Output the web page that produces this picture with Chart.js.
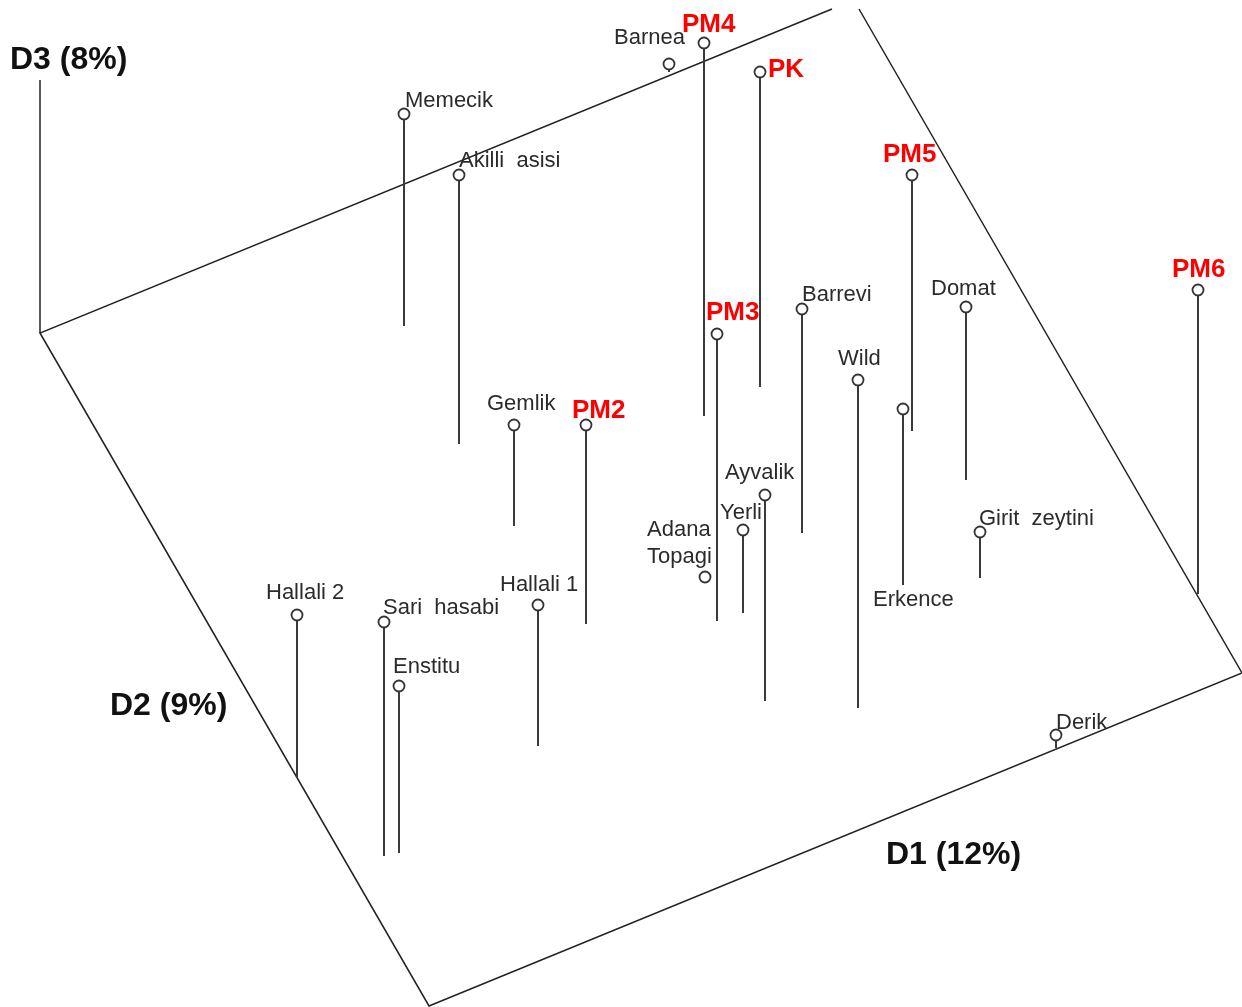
<!DOCTYPE html>
<html>
<head>
<meta charset="utf-8">
<script src="https://cdn.jsdelivr.net/npm/chart.js@4/dist/chart.umd.min.js"></script>
<style>
    html, body { margin: 0; padding: 0; background: #fff; }
    #wrap { width: 1242px; height: 1007px; }
</style>
</head>
<body>
<div id="wrap"><canvas id="pcoa" width="1242" height="1007"></canvas></div>
<script>
// samples, projected position of each point (x, top of stem) and where its stem meets the D1/D2 plane
const names = ["Memecik", "Akilli  asisi", "Barnea", "PM4", "PK", "PM5", "PM6", "Domat", "Barrevi", "PM3", "Wild", "Erkence",
    "Gemlik", "PM2", "Ayvalik", "Yerli", "Adana\nTopagi", "Girit  zeytini", "Hallali 2", "Sari  hasabi", "Enstitu", "Hallali 1", "Derik"];
const posX = [404, 459, 669, 704, 760, 912, 1198, 966, 802, 717, 858, 903, 514, 586, 765, 743, 705, 980, 297, 384, 399, 538, 1056];
const topY = [114, 175, 64, 43, 72, 175, 290, 307, 309, 334, 380, 409, 425, 425, 495, 530, 577, 532, 615, 622, 686, 605, 735];
const baseY = [326, 444, 72, 416, 387, 431, 594, 480, 533, 621, 708, 585, 526, 624, 701, 613, 577, 578, 778, 856, 853, 746, 748];
const refSamples = ["PM2", "PM3", "PM4", "PM5", "PM6", "PK"];

// outline of the D1/D2 plane and the D3 axis
const planeX = [832, 40, 429, 1242, 859];
const planeY = [9, 333, 1006, 673, 9];
const d3X = [40, 40];
const d3Y = [333, 80];

const axisTitles = ["D3 (8%)", "D2 (9%)", "D1 (12%)"];
const axisTitleX = [10, 110, 886];
const axisTitleY = [60, 706, 855];

// label placement relative to each marker (left edge, vertical middle)
const labelDx = [1, 0, -55, -22, 8, -29, -26, -35, 0, -11, -20, -30, -27, -14, -40, -23, -58, -1, -31, -1, -6, -38, 0];
const labelDy = [-13, -14, -26, -18, -2, -20, -20, -18, -14, -21, -21, 191, -21, -14, -22, -17, -47, -13, -22, -14, -19, -20, -12];

// markers first: chart.js paints dataset 0 last, so the circles sit on top of the stems
const datasets = [];
datasets.push({
    type: "scatter",
    data: names.map((n, i) => ({x: posX[i], y: topY[i]})),
    pointStyle: "circle",
    pointRadius: 5.5,
    pointBackgroundColor: "#fff",
    pointBorderColor: "#333",
    pointBorderWidth: 1.8
});
names.forEach((n, i) => {
    datasets.push({
        type: "line",
        data: [{x: posX[i], y: topY[i]}, {x: posX[i], y: baseY[i]}],
        borderColor: "#3a3a3a",
        borderWidth: 2,
        pointRadius: 0,
        fill: false
    });
});
datasets.push({
    type: "line",
    data: planeX.map((x, i) => ({x: x, y: planeY[i]})),
    borderColor: "#222",
    borderWidth: 1.5,
    pointRadius: 0,
    fill: false
});
datasets.push({
    type: "line",
    data: d3X.map((x, i) => ({x: x, y: d3Y[i]})),
    borderColor: "#222",
    borderWidth: 1.5,
    pointRadius: 0,
    fill: false
});

const labelPlugin = {
    id: "labels",
    afterDatasetsDraw(chart) {
        const ctx = chart.ctx;
        const sx = chart.scales.x, sy = chart.scales.y;
        ctx.save();
        ctx.textBaseline = "middle";
        ctx.textAlign = "left";
        names.forEach((n, i) => {
            const px = sx.getPixelForValue(posX[i]) + labelDx[i];
            const py = sy.getPixelForValue(topY[i]) + labelDy[i];
            if (refSamples.includes(n)) {
                ctx.font = "bold 26px 'Liberation Sans', Arial, sans-serif";
                ctx.fillStyle = "#ff0000";
            } else {
                ctx.font = "22px 'Liberation Sans', Arial, sans-serif";
                ctx.fillStyle = "#2b2b2b";
            }
            n.split("\n").forEach((line, k) => ctx.fillText(line, px, py + k * 27));
        });
        ctx.font = "bold 32px 'Liberation Sans', Arial, sans-serif";
        ctx.fillStyle = "#111";
        axisTitles.forEach((t, i) => {
            ctx.fillText(t, sx.getPixelForValue(axisTitleX[i]), sy.getPixelForValue(axisTitleY[i]));
        });
        ctx.restore();
    }
};

new Chart(document.getElementById("pcoa"), {
    type: "scatter",
    data: {datasets: datasets},
    options: {
        responsive: false,
        animation: false,
        layout: {padding: 0, autoPadding: false},
        plugins: {legend: {display: false}, tooltip: {enabled: false}},
        scales: {
            x: {type: "linear", display: false, min: 0, max: 1242},
            y: {type: "linear", display: false, min: 0, max: 1007, reverse: true}
        }
    },
    plugins: [labelPlugin]
});
</script>
</body>
</html>
